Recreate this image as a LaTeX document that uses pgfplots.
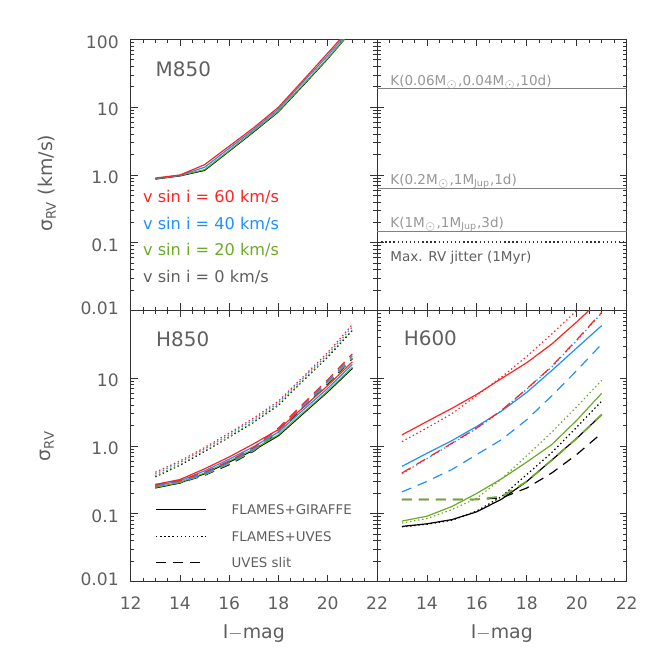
\documentclass[border=0pt]{standalone}
\usepackage{fontspec}
\setmainfont{DejaVu Sans}
\usepackage{pgfplots}
\pgfplotsset{compat=1.18}
\usepackage{pgfplotstable}

\definecolor{cR}{RGB}{255,35,35}
\definecolor{cB}{RGB}{30,144,255}
\definecolor{cG}{RGB}{110,170,40}
\definecolor{cK}{RGB}{0,0,0}
\definecolor{txt}{RGB}{95,95,95}
\definecolor{ktxt}{RGB}{150,150,150}
\definecolor{axframe}{RGB}{50,50,50}

% M850: sigma_RV for vsini = 60, 40, 20, 0 km/s
\pgfplotstableread{
mag   r      b      g      k
13    0.90   0.89   0.88   0.87
14    1.00   0.99   0.98   0.97
15    1.42   1.30   1.20   1.17
16    2.66   2.48   2.30   2.25
17    5.0    4.7    4.45   4.35
18    10.0   9.4    8.8    8.6
19    25     23.5   21.5   21
20    63     58     53     52
21    160    150    140    138
}\tblM

% H850: s = FLAMES+GIRAFFE, d = FLAMES+UVES, l = UVES slit
\pgfplotstableread{
mag  rs    bs    gs    ks    rd    bd    gd    kd    rl    bl    gl    kl
13   0.27  0.258 0.245 0.24  0.41  0.385 0.36  0.35  0.27  0.262 0.255 0.25
14   0.32  0.305 0.29  0.285 0.60  0.57  0.535 0.52  0.31  0.30  0.29  0.285
15   0.46  0.43  0.40  0.39  0.95  0.90  0.85  0.83  0.41  0.39  0.375 0.37
16   0.69  0.64  0.60  0.58  1.55  1.47  1.38  1.35  0.60  0.57  0.545 0.53
17   1.08  0.98  0.90  0.87  2.6   2.45  2.3   2.25  0.95  0.90  0.86  0.84
18   1.75  1.6   1.47  1.42  4.6   4.35  4.1   4.0   1.85  1.75  1.65  1.6
19   3.7   3.4   3.1   3.0   10.5  10    9.4   9.2   4.2   4.0   3.8   3.7
20   7.8   7.1   6.5   6.3   24    22.5  21    20.5  9.5   9.0   8.5   8.3
21   17.5  16    14.5  14    62    57    52    51    23    21.5  20    19.5
}\tblH

% H600
\pgfplotstableread{
mag  rs    bs    gs    ks    rd    bd    gd    kd    rl    bl    gl    kl
13   1.46  0.50  0.078 0.065 1.16  0.39  0.073 0.064 0.40  0.21  0.162 0.162
14   2.3   0.78  0.092 0.071 1.85  0.65  0.085 0.070 0.66  0.30  0.162 0.162
15   3.6   1.2   0.128 0.082 3.0   1.08  0.115 0.080 1.1   0.45  0.162 0.162
16   5.8   1.95  0.20  0.107 5.6   1.82  0.17  0.110 1.85  0.75  0.163 0.162
17   10    3.3   0.33  0.165 10.5  3.35  0.33  0.18  3.4   1.25  0.18  0.172
18   17    6.2   0.58  0.30  21    6.9   0.72  0.38  7.0   2.45  0.30  0.24
19   32    13    1.05  0.62  45    14.7  1.6   0.80  15    5.5   0.62  0.40
20   68    28    2.4   1.3   100   36    3.8   1.9   37    13    1.3   0.75
21   150   60    6.0   2.9   220   92    9.3   4.6   94    32    2.9   1.55
}\tblS

\pgfplotsset{
  every axis/.append style={
    scale only axis, height=135.5bp,
    xmin=12, xmax=22, ymode=log, ymin=0.01, ymax=100,
    xtick={12,14,...,22}, minor x tick num=3,
    axis line style={axframe, line width=0.5bp},
    every tick/.style={axframe, line width=0.4bp},
    major tick length=3.5bp, minor tick length=1.8bp,
    tick align=inside,
    tick label style={font=\fontsize{8.6}{9}\selectfont, text=txt},
    xticklabel style={yshift=-4bp},
    yticklabel style={xshift=-2.5bp, yshift=-1.2bp},
    label style={font=\fontsize{9.5}{10}\selectfont, text=txt},
    every axis plot/.append style={line width=0.6bp},
  },
}
\tikzset{
  mySol/.style={solid},
  myDot/.style={dash pattern=on 0.7bp off 1.35bp},
  myDsh/.style={dash pattern=on 5bp off 3.5bp},
}

\begin{document}
\begin{tikzpicture}
\useasboundingbox (0bp,0bp) rectangle (332bp,332bp);

% ---- top left: M850
\begin{axis}[width=123.15bp, at={(65.35bp,176.75bp)}, anchor=south west,
  ytick={0.01,0.1,1,10,100},
  xticklabels={,,,,,},
  yticklabels={\raisebox{5bp}{0.01},0.1,1.0,10,100},
  ylabel={σ\textsubscript{RV} (km/s)},
  ylabel style={at={(axis description cs:-0.34,0.47)}, anchor=center}]
  \addplot[cK] table[x=mag,y=k] {\tblM};
  \addplot[cG] table[x=mag,y=g] {\tblM};
  \addplot[cB] table[x=mag,y=b] {\tblM};
  \addplot[cR] table[x=mag,y=r] {\tblM};
  \node[anchor=base west, text=txt, font=\fontsize{10}{10}\selectfont, inner sep=0pt] at (axis cs:13,28.8) {M850};
  \node[anchor=base west, inner sep=0pt, font=\fontsize{8.1}{9}\selectfont, text=cR] at (axis cs:12.49,0.393) {v sin i = 60 km/s};
  \node[anchor=base west, inner sep=0pt, font=\fontsize{8.1}{9}\selectfont, text=cB] at (axis cs:12.49,0.159) {v sin i = 40 km/s};
  \node[anchor=base west, inner sep=0pt, font=\fontsize{8.1}{9}\selectfont, text=cG] at (axis cs:12.49,0.0645) {v sin i = 20 km/s};
  \node[anchor=base west, inner sep=0pt, font=\fontsize{8.1}{9}\selectfont, text=txt] at (axis cs:12.49,0.0255) {v sin i = 0 km/s};
\end{axis}

% ---- top right: RV amplitudes
\begin{axis}[width=124.85bp, at={(188.5bp,176.75bp)}, anchor=south west,
  ytick={0.01,0.1,1,10,100},
  xticklabels={,,,,,}, yticklabels={,,,,}]
  \addplot[gray, line width=0.5bp] coordinates {(12,18.7) (22,18.7)};
  \addplot[gray, line width=0.5bp] coordinates {(12,0.63) (22,0.63)};
  \addplot[gray, line width=0.5bp] coordinates {(12,0.148) (22,0.148)};
  \addplot[axframe, myDot, line width=0.7bp] coordinates {(12,0.103) (22,0.103)};
  \node[anchor=base west, inner sep=0pt, font=\fontsize{6.8}{8}\selectfont, text=ktxt] at (axis cs:12.52,21.2) {K(0.06M$_\odot$,0.04M$_\odot$,10d)};
  \node[anchor=base west, inner sep=0pt, font=\fontsize{6.8}{8}\selectfont, text=ktxt] at (axis cs:12.52,0.715) {K(0.2M$_\odot$,1M\textsubscript{Jup},1d)};
  \node[anchor=base west, inner sep=0pt, font=\fontsize{6.8}{8}\selectfont, text=ktxt] at (axis cs:12.52,0.17) {K(1M$_\odot$,1M\textsubscript{Jup},3d)};
  \node[anchor=base west, inner sep=0pt, font=\fontsize{6.8}{8}\selectfont, text=txt] at (axis cs:12.52,0.052) {Max. RV jitter (1Myr)};
\end{axis}

% ---- bottom left: H850
\begin{axis}[width=123.15bp, at={(65.35bp,41.25bp)}, anchor=south west,
  ytick={0.01,0.1,1,10},
  xticklabels={12,14,16,18,20,22},
  yticklabels={\raisebox{5bp}{0.01},0.1,1.0,10},
  xlabel={I$-$mag}, ylabel={σ\textsubscript{RV}},
  xlabel style={at={(axis description cs:0.5,-0.193)}, anchor=center},
  ylabel style={at={(axis description cs:-0.34,0.5)}, anchor=center},
  legend image code/.code={\draw[#1, line width=0.6bp] (0bp,0bp) -- (25bp,0bp);},
  legend style={at={(rel axis cs:0.0987,0.285)}, anchor=north west, draw=none, fill=none,
    inner sep=0pt, font=\fontsize{6.7}{8}\selectfont, text=txt,
    nodes={inner sep=0pt, text height=4.9bp, text depth=0pt},
    column sep=12.5bp, row sep=8.4bp},
  legend cell align=left]
  \addlegendimage{cK, mySol}\addlegendentry{FLAMES+GIRAFFE}
  \addlegendimage{cK, myDot}\addlegendentry{FLAMES+UVES}
  \addlegendimage{cK, myDsh}\addlegendentry{UVES slit}
  \addplot[cK, mySol, forget plot] table[x=mag,y=ks] {\tblH};
  \addplot[cK, myDot, forget plot] table[x=mag,y=kd] {\tblH};
  \addplot[cK, myDsh, forget plot] table[x=mag,y=kl] {\tblH};
  \addplot[cG, mySol, forget plot] table[x=mag,y=gs] {\tblH};
  \addplot[cG, myDot, forget plot] table[x=mag,y=gd] {\tblH};
  \addplot[cG, myDsh, forget plot] table[x=mag,y=gl] {\tblH};
  \addplot[cB, mySol, forget plot] table[x=mag,y=bs] {\tblH};
  \addplot[cB, myDot, forget plot] table[x=mag,y=bd] {\tblH};
  \addplot[cB, myDsh, forget plot] table[x=mag,y=bl] {\tblH};
  \addplot[cR, mySol, forget plot] table[x=mag,y=rs] {\tblH};
  \addplot[cR, myDot, forget plot] table[x=mag,y=rd] {\tblH};
  \addplot[cR, myDsh, forget plot] table[x=mag,y=rl] {\tblH};
  \node[anchor=base west, text=txt, font=\fontsize{10}{10}\selectfont, inner sep=0pt] at (axis cs:13.02,29.8) {H850};
\end{axis}

% ---- bottom right: H600
\begin{axis}[width=124.85bp, at={(188.5bp,41.25bp)}, anchor=south west,
  ytick={0.01,0.1,1,10,100},
  yticklabels={,,,,}, xticklabels={,14,16,18,20,22},
  xlabel={I$-$mag},
  xlabel style={at={(axis description cs:0.5,-0.193)}, anchor=center}]
  \addplot[cK, mySol] table[x=mag,y=ks] {\tblS};
  \addplot[cK, myDot] table[x=mag,y=kd] {\tblS};
  \addplot[cK, myDsh] table[x=mag,y=kl] {\tblS};
  \addplot[cG, mySol] table[x=mag,y=gs] {\tblS};
  \addplot[cG, myDot] table[x=mag,y=gd] {\tblS};
  \addplot[cG, myDsh, line width=0.85bp] table[x=mag,y=gl] {\tblS};
  \addplot[cB, mySol] table[x=mag,y=bs] {\tblS};
  \addplot[cB, myDot] table[x=mag,y=bd] {\tblS};
  \addplot[cB, myDsh] table[x=mag,y=bl] {\tblS};
  \addplot[cR, mySol] table[x=mag,y=rs] {\tblS};
  \addplot[cR, myDot] table[x=mag,y=rd] {\tblS};
  \addplot[cR, myDsh] table[x=mag,y=rl] {\tblS};
  \node[anchor=base west, text=txt, font=\fontsize{10}{10}\selectfont, inner sep=0pt] at (axis cs:13.06,30.5) {H600};
\end{axis}
\end{tikzpicture}
\end{document}
